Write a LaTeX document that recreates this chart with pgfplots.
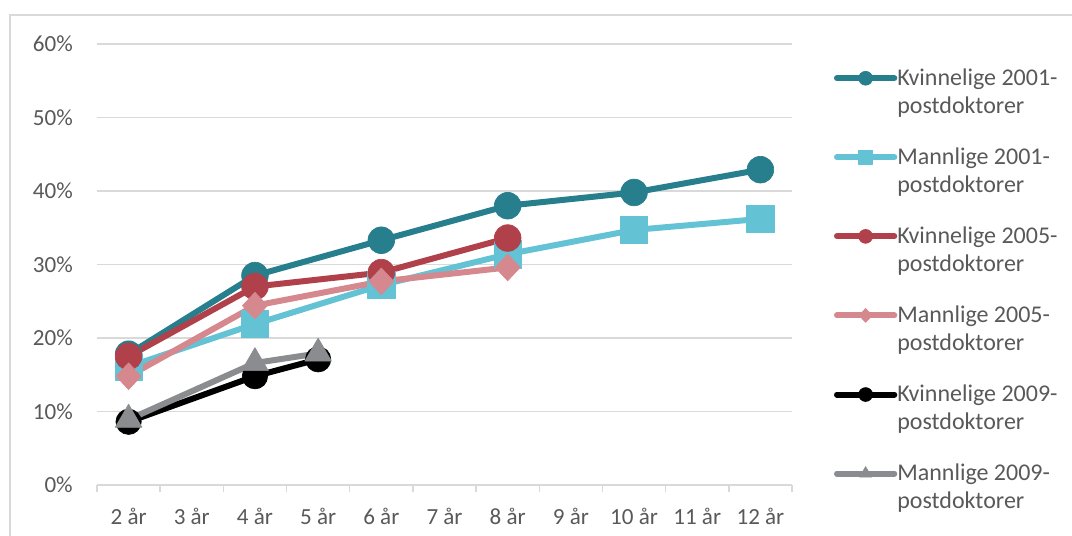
\documentclass[border=0pt]{standalone}
\usepackage{pgfplots}
\pgfplotsset{compat=1.18}
\usepackage{fontspec}
\setmainfont{Carlito}
\definecolor{teal1}{HTML}{277E8C}
\definecolor{lblue}{HTML}{63C3D5}
\definecolor{red1}{HTML}{B0414B}
\definecolor{pink1}{HTML}{D6888F}
\definecolor{grey1}{HTML}{8A8C8F}
\definecolor{txt}{HTML}{595959}
\definecolor{gridc}{HTML}{D9D9D9}
\begin{document}
\begin{tikzpicture}
\path[use as bounding box] (0,0) rectangle (804pt,402pt);
\draw[gridc, line width=0.9pt] (7.5pt,0) -- (7.5pt,390.75pt) -- (804pt,390.75pt);
\begin{axis}[
  at={(72.75pt,38.25pt)}, anchor=south west,
  scale only axis, width=521.25pt, height=330.75pt,
  xmin=-0.5, xmax=10.5, ymin=0, ymax=60,
  axis x line*=bottom, axis y line*=left,
  y axis line style={draw=none},
  x axis line style={gridc, line width=1.1pt},
  xtick={0,...,10},
  xticklabels={2 år,3 år,4 år,5 år,6 år,7 år,8 år,9 år,10 år,11 år,12 år},
  minor xtick={-0.5,0.5,...,10.5},
  major tick length=0pt, minor tick length=5.5pt,
  tick align=outside,
  minor tick style={gridc, line width=1.1pt},
  ytick={0,10,...,60},
  yticklabels={0\%,10\%,20\%,30\%,40\%,50\%,60\%},
  ymajorgrids, major grid style={gridc, line width=1.2pt},
  ytick style={draw=none},
  tick label style={font=\fontsize{17.3}{20}\selectfont, text=txt},
  yticklabel style={anchor=east, inner sep=0pt, xshift=-18pt},
  xticklabel style={anchor=north, inner sep=0pt, yshift=-17pt},
  clip=false,
  legend cell align=left,
  legend style={at={(1.060,0.945)}, anchor=north west, draw=none, fill=none,
    inner sep=0pt, row sep=24.3pt,
    font=\fontsize{18}{21}\selectfont, text=txt,
    nodes={align=left, inner sep=0pt, text=txt}},
  legend image code/.code={
    \draw[#1, mark repeat=2, mark phase=2] plot coordinates {(0pt,10.2pt) (21.5pt,10.2pt) (43pt,10.2pt)};},
  legend image post style={mark size=5.2pt},
  every axis plot/.append style={line width=4.5pt, line cap=round, line join=round},
]
\addplot[teal1, mark=*, mark size=10pt, mark options={solid, line width=0.5pt}]
  coordinates {(0,17.8) (2,28.5) (4,33.3) (6,38.0) (8,39.8) (10,42.9)};
\addlegendentry{Kvinnelige 2001-\\postdoktorer}
\addplot[lblue, mark=square*, mark size=10.3pt, mark options={solid, line width=0.5pt}]
  coordinates {(0,16.1) (2,21.9) (4,27.2) (6,31.4) (8,34.7) (10,36.2)};
\addlegendentry{Mannlige 2001-\\postdoktorer}
\addplot[red1, mark=*, mark size=10pt, mark options={solid, line width=0.5pt}]
  coordinates {(0,17.5) (2,27.0) (4,28.9) (6,33.6)};
\addlegendentry{Kvinnelige 2005-\\postdoktorer}
\addplot[pink1, mark=diamond*, mark size=10pt, mark options={solid, line width=0.5pt, xscale=1.25}]
  coordinates {(0,14.8) (2,24.4) (4,27.7) (6,29.6)};
\addlegendentry{Mannlige 2005-\\postdoktorer}
\addplot[black, mark=*, mark size=9.5pt, mark options={solid, line width=0.5pt}]
  coordinates {(0,8.6) (2,14.8) (3,17.1)};
\addlegendentry{Kvinnelige 2009-\\postdoktorer}
\addplot[grey1, mark=triangle*, mark size=11.5pt, mark options={solid, line width=0.5pt}]
  coordinates {(0,8.9) (2,16.6) (3,17.9)};
\addlegendentry{Mannlige 2009-\\postdoktorer}
\end{axis}
\end{tikzpicture}
\end{document}
